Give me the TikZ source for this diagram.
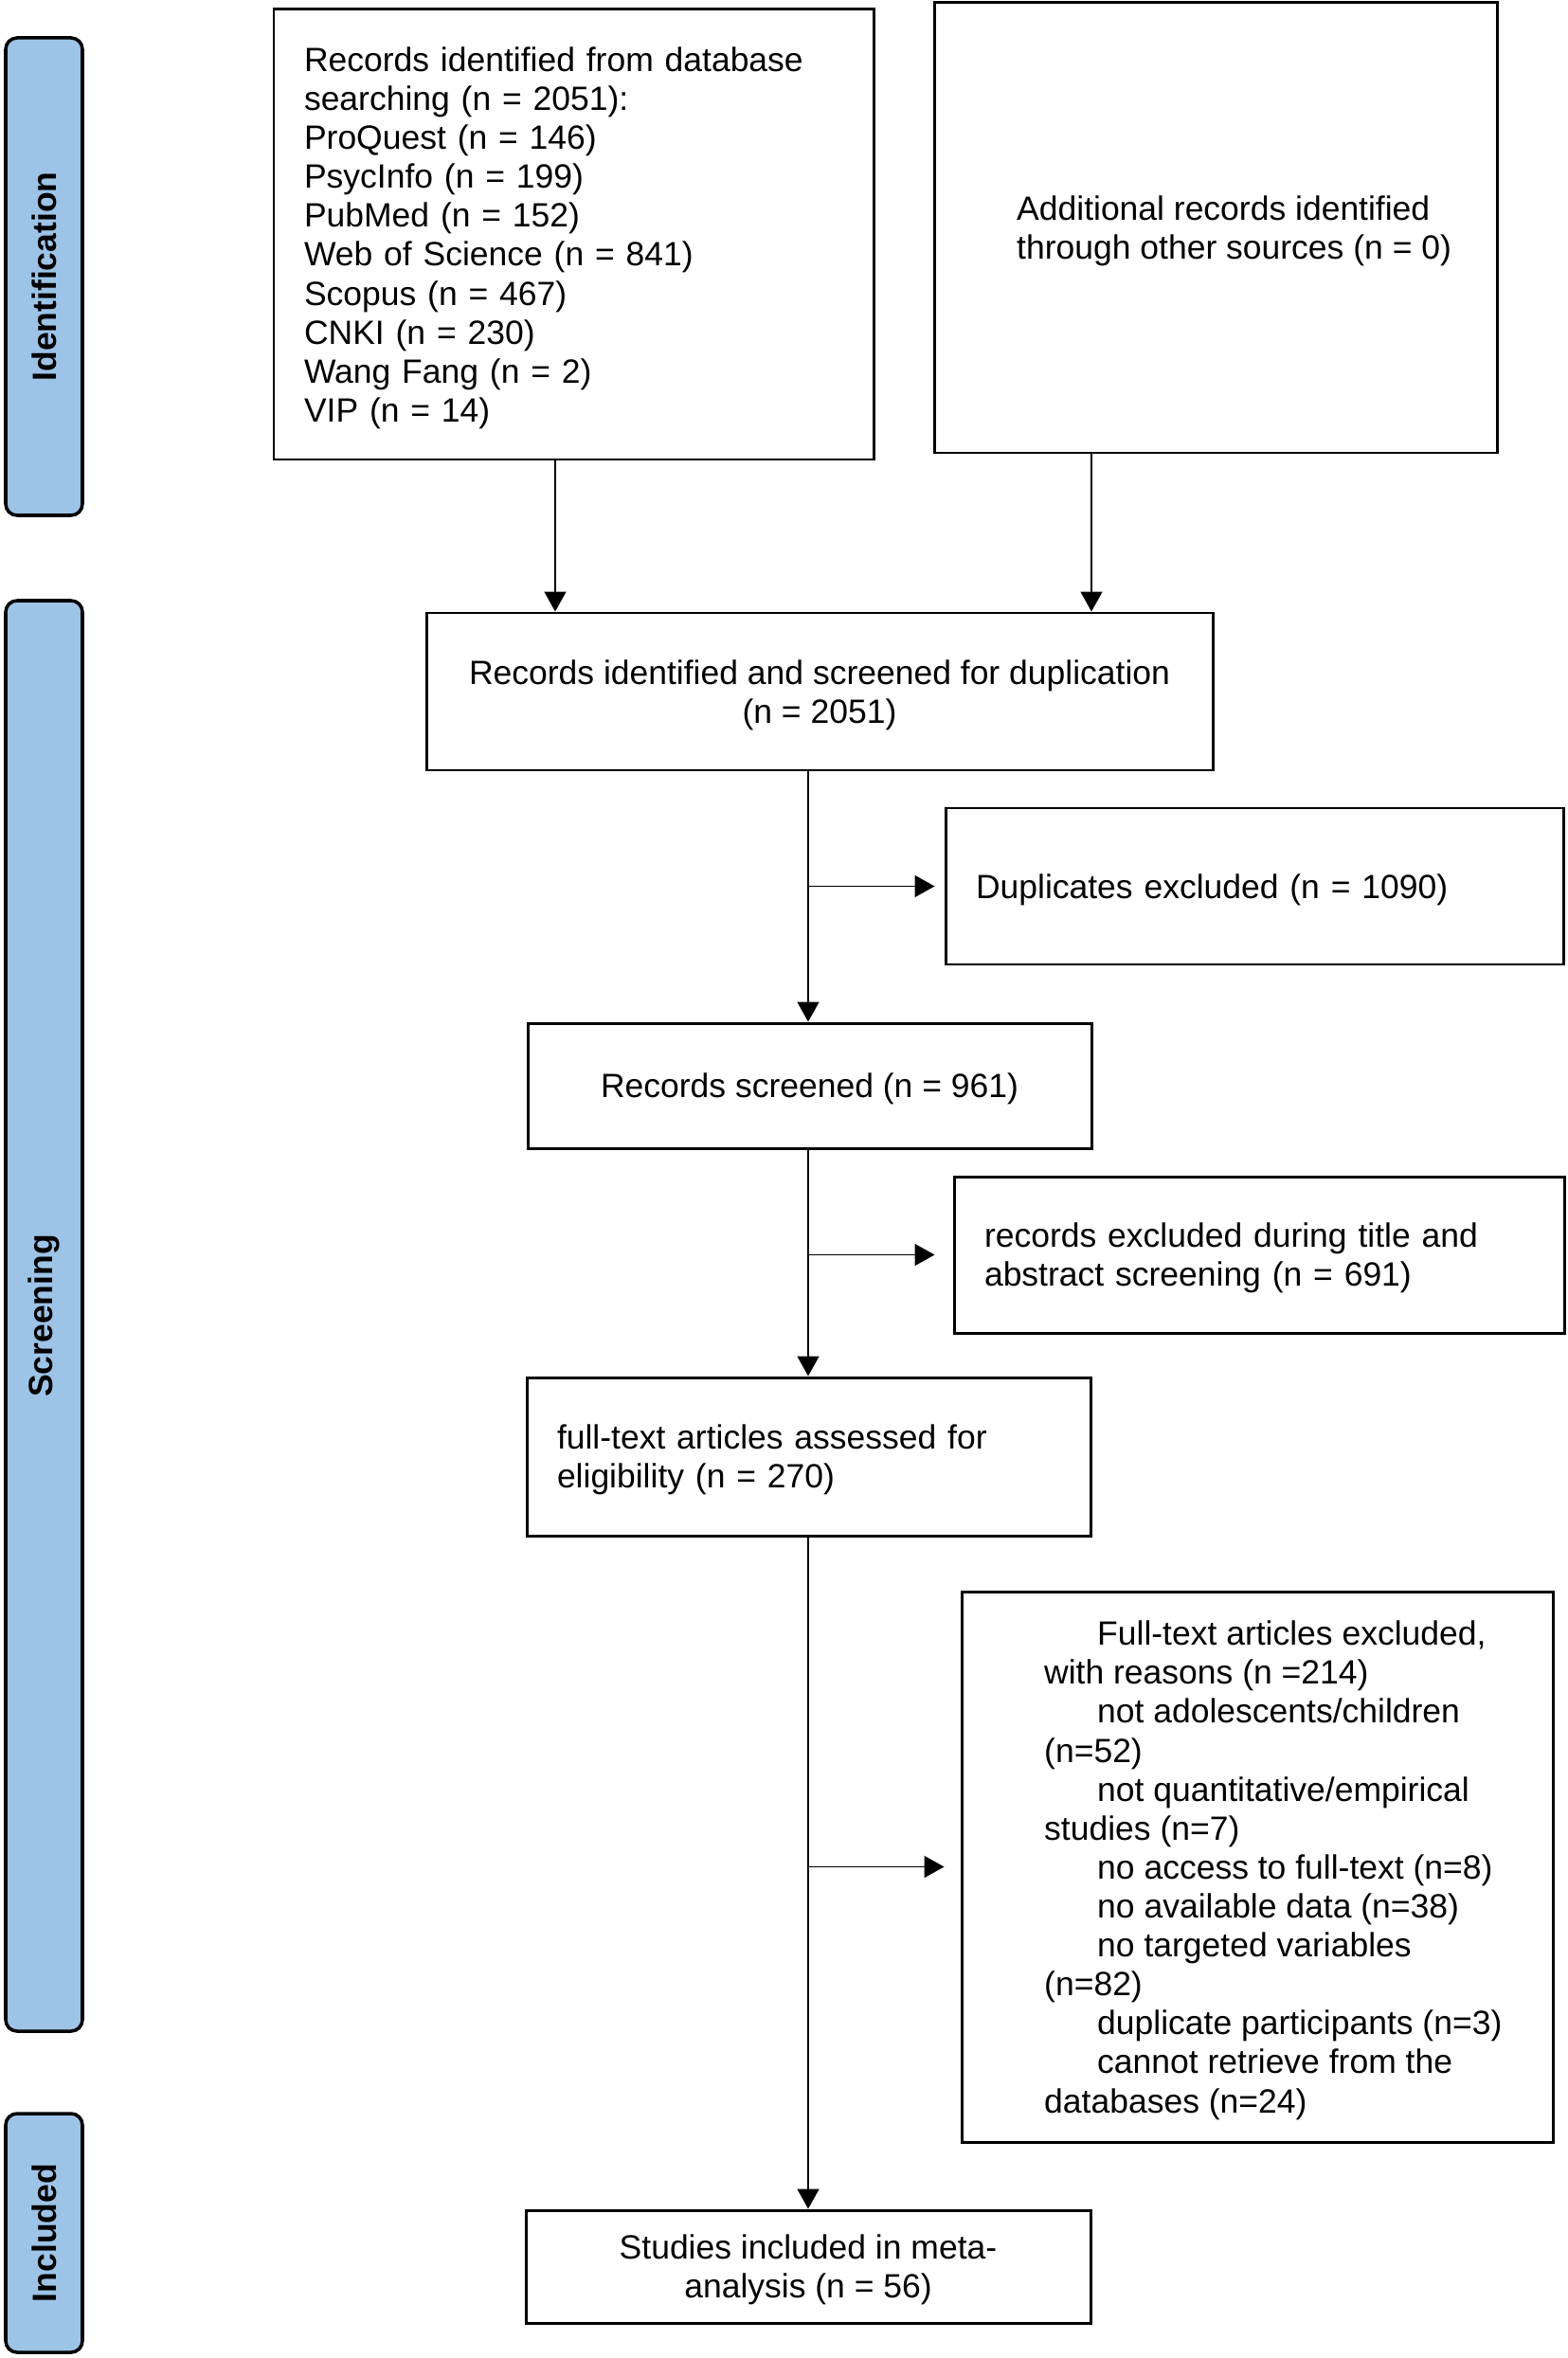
\documentclass[tikz,border=0pt]{standalone}
\usepackage{fontspec}
\setmainfont{Liberation Sans}
\usepackage{tikz}
\usetikzlibrary{calc,arrows.meta}
\definecolor{stageblue}{HTML}{9DC3E6}
\newcommand{\rowlift}{\rule{0pt}{9.4pt}}

\begin{document}
\begin{tikzpicture}[
    txtfont/.style={font=\fontsize{10.1pt}{11.7pt}\selectfont},
    box/.style={draw, line width=0.85pt, rectangle, inner sep=0pt, txtfont},
    leftbox/.style={box, align=left, inner xsep=0.32cm},
    midbox/.style={box, align=center},
    plain/.style={inner sep=0pt, align=left, txtfont},
    stage/.style={draw, line width=1pt, fill=stageblue, rounded corners=0.12cm, rotate=90, inner sep=0pt, minimum height=0.81cm, font=\bfseries\fontsize{10.1pt}{11.7pt}\selectfont},
    arr/.style={line width=0.45pt, -{Triangle[length=0.21cm,width=0.23cm]}}
  ]
    \useasboundingbox (0,0) rectangle (16.54,-24.89);
    \pgfmathsetmacro{\barx}{0.465}
    % stage bars
    \node[stage, minimum width=5.04cm] (ident) at (\barx,-2.92) {Identification};
    \node[stage, minimum width=15.10cm] (screen) at (\barx,-13.89) {Screening};
    \node[stage, minimum width=2.52cm] (incl) at (\barx,-23.57) {Included};
    % identification
    \node[leftbox, text width=5.69cm, minimum height=4.75cm] (db) at (6.055,-2.475) {\rowlift Records identified from database\\searching (n = 2051):\\ProQuest (n = 146)\\PsycInfo (n = 199)\\PubMed (n = 152)\\Web of Science (n = 841)\\Scopus (n = 467)\\CNKI (n = 230)\\Wang Fang (n = 2)\\VIP (n = 14)};
    \node[box, minimum width=5.94cm, minimum height=4.75cm] (other) at (12.83,-2.405) {};
    \node[plain, anchor=west] (othertxt) at ([xshift=0.88cm]other.west) {\rowlift Additional records identified\\through other sources (n = 0)};
    % screening
    \node[midbox, minimum width=8.30cm, minimum height=1.66cm] (dup) at (8.65,-7.30) {\rowlift Records identified and screened for duplication\\(n = 2051)};
    \node[leftbox, text width=5.88cm, minimum height=1.65cm] (dupex) at (13.24,-9.355) {\rowlift Duplicates excluded (n = 1090)};
    \node[midbox, minimum width=5.95cm, minimum height=1.32cm] (scr) at (8.545,-11.46) {\rowlift Records screened (n = 961)};
    \node[leftbox, text width=5.80cm, minimum height=1.65cm] (screx) at (13.29,-13.245) {\rowlift records excluded during title and\\abstract screening (n = 691)};
    \node[leftbox, text width=5.31cm, minimum height=1.67cm] (full) at (8.535,-15.375) {\rowlift full-text articles assessed for\\eligibility (n = 270)};
    \node[box, minimum width=6.24cm, minimum height=5.81cm] (fullex) at (13.27,-19.705) {};
    \node[plain, anchor=west] (fullextxt) at ([xshift=0.88cm]fullex.west) {\rowlift\hspace*{0.56cm}Full-text articles excluded,\\with reasons (n =214)\\\hspace*{0.56cm}not adolescents/children\\(n=52)\\\hspace*{0.56cm}not quantitative/empirical\\studies (n=7)\\\hspace*{0.56cm}no access to full-text (n=8)\\\hspace*{0.56cm}no available data (n=38)\\\hspace*{0.56cm}no targeted variables\\(n=82)\\\hspace*{0.56cm}duplicate participants (n=3)\\\hspace*{0.56cm}cannot retrieve from the\\databases (n=24)};
    % included
    \node[midbox, minimum width=5.96cm, minimum height=1.19cm] (meta) at (8.53,-23.925) {\rowlift Studies included in meta-\\analysis (n = 56)};
    % arrows
    \coordinate (sp) at (8.53,0);
    \draw[arr] ([xshift=-0.195cm]db.south) -- ([xshift=-0.195cm]db.south |- dup.north);
    \draw[arr] ([xshift=-1.31cm]other.south) -- ([xshift=-1.31cm]other.south |- dup.north);
    \draw[arr] (dup.south -| sp) -- (scr.north -| sp);
    \draw[arr, shorten >=0.1cm] (dupex.west -| sp) -- (dupex.west);
    \draw[arr] (scr.south -| sp) -- (full.north -| sp);
    \draw[arr, shorten >=0.19cm] (screx.west -| sp) -- (screx.west);
    \draw[arr] (full.south -| sp) -- (meta.north -| sp);
    \draw[arr, shorten >=0.17cm] (fullex.west -| sp) -- (fullex.west);
  \end{tikzpicture}
\end{document}
